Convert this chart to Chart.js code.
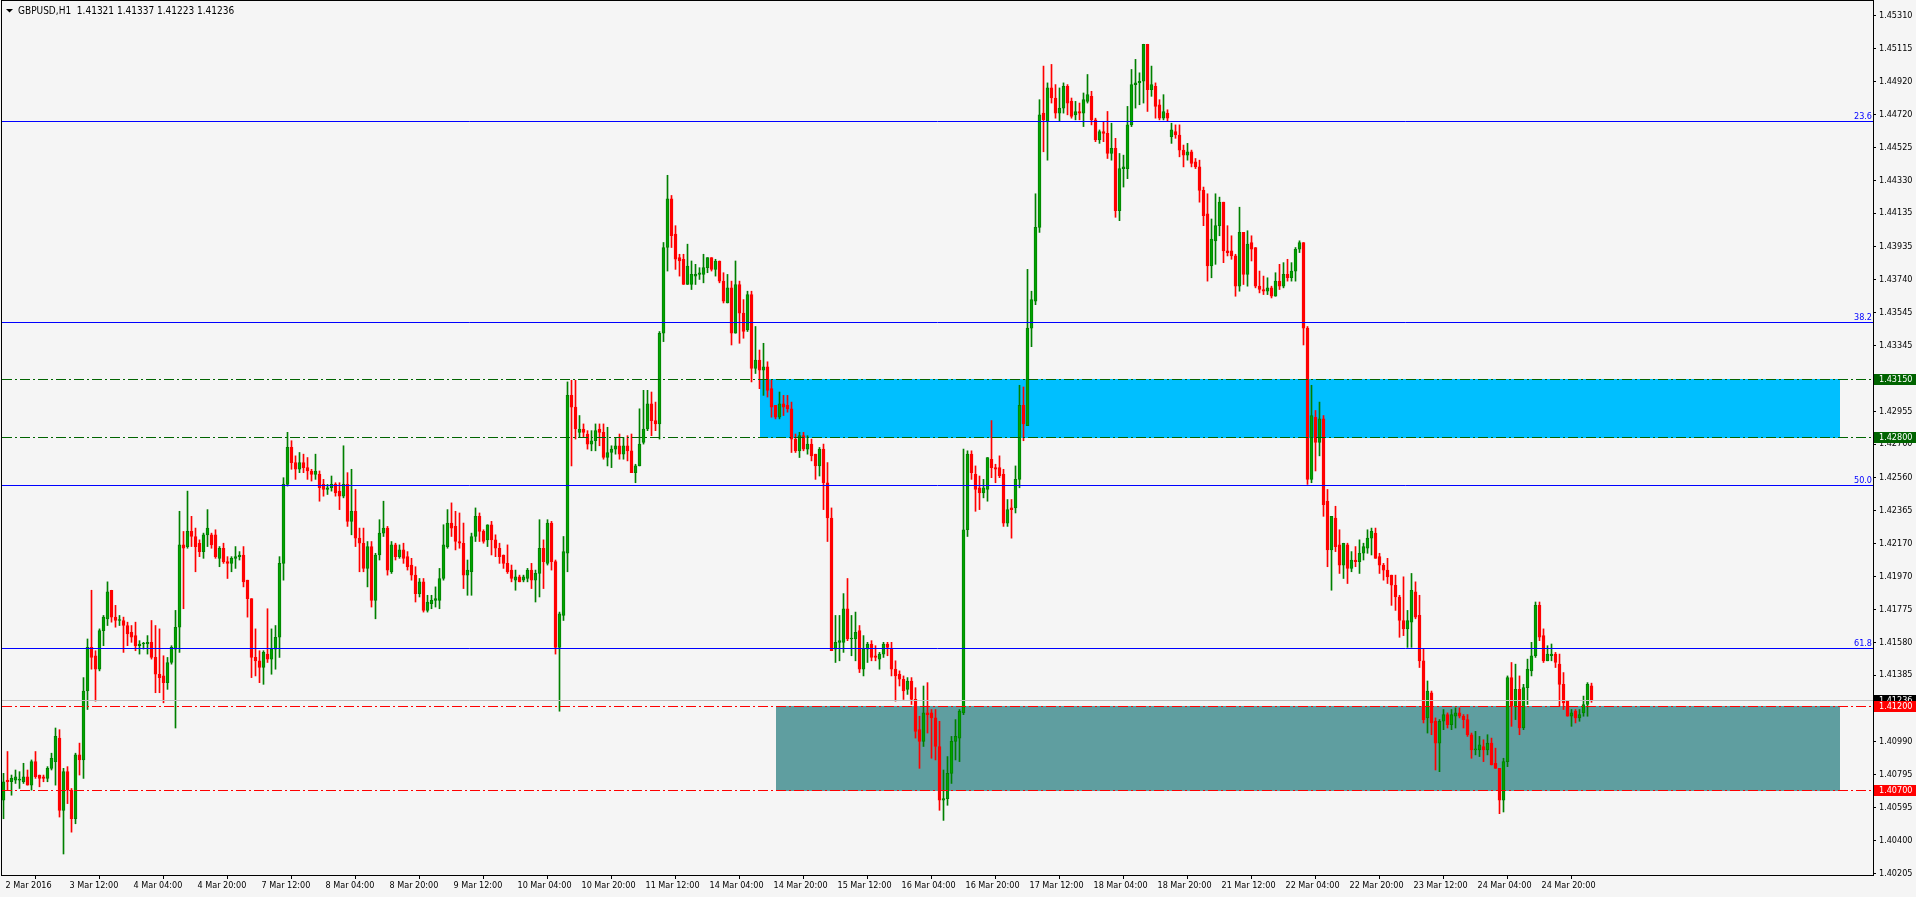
<!DOCTYPE html>
<html>
<head>
<meta charset="utf-8">
<title>GBPUSD,H1</title>
<script src="https://cdn.jsdelivr.net/npm/chart.js@4.4.1/dist/chart.umd.min.js"></script>
<style>
  html, body { margin: 0; padding: 0; background: #f5f5f5; overflow: hidden; }
  canvas { display: block; }
</style>
</head>
<body>
<canvas id="myChart" width="1916" height="897"></canvas>
<script>
// chart data
var symbol = 'GBPUSD,H1';

var timeLabels = ['2 Mar 2016', '3 Mar 12:00', '4 Mar 04:00', '4 Mar 20:00', '7 Mar 12:00', '8 Mar 04:00',
	'8 Mar 20:00', '9 Mar 12:00', '10 Mar 04:00', '10 Mar 20:00', '11 Mar 12:00', '14 Mar 04:00',
	'14 Mar 20:00', '15 Mar 12:00', '16 Mar 04:00', '16 Mar 20:00', '17 Mar 12:00', '18 Mar 04:00',
	'18 Mar 20:00', '21 Mar 12:00', '22 Mar 04:00', '22 Mar 20:00', '23 Mar 12:00', '24 Mar 04:00',
	'24 Mar 20:00'];
var barsPerLabel = 16;

var priceTicks = [1.45310, 1.45115, 1.44920, 1.44720, 1.44525, 1.44330, 1.44135, 1.43935, 1.43740,
	1.43545, 1.43345, 1.43150, 1.42955, 1.42760, 1.42560, 1.42365, 1.42170, 1.41970, 1.41775,
	1.41580, 1.41385, 1.41190, 1.40990, 1.40795, 1.40595, 1.40400, 1.40205];

// [open, high, low, close], one per hour
var candles = [
	// 2 Mar
	[1.4064,1.4080,1.4053,1.4075],[1.4076,1.4093,1.4070,1.4075],[1.4075,1.4079,1.4067,1.4077],[1.4076,1.4082,1.4074,1.4078],
	[1.4076,1.4081,1.4071,1.4076],[1.4075,1.4086,1.4074,1.4078],[1.4078,1.4082,1.4073,1.4073],[1.4073,1.4088,1.4070,1.4087],
	[1.4087,1.4093,1.4077,1.4078],[1.4079,1.4079,1.4072,1.4077],[1.4078,1.4079,1.4075,1.4077],[1.4077,1.4084,1.4075,1.4083],
	[1.4083,1.4092,1.4082,1.4089],[1.4087,1.4107,1.4073,1.4102],[1.4101,1.4106,1.4054,1.4058],[1.4058,1.4083,1.4032,1.4081],
	// 3 Mar 12:00
	[1.4081,1.4084,1.4062,1.4070],[1.4070,1.4071,1.4045,1.4053],[1.4053,1.4092,1.4050,1.4091],[1.4091,1.4098,1.4079,1.4088],
	[1.4088,1.4137,1.4077,1.4129],[1.4129,1.4160,1.4118,1.4155],[1.4155,1.4189,1.4142,1.4149],[1.4150,1.4153,1.4123,1.4142],
	[1.4142,1.4166,1.4141,1.4165],[1.4165,1.4174,1.4156,1.4173],[1.4172,1.4194,1.4168,1.4188],[1.4189,1.4189,1.4170,1.4173],
	[1.4173,1.4180,1.4167,1.4171],[1.4171,1.4174,1.4168,1.4171],[1.4171,1.4173,1.4152,1.4168],[1.4168,1.4170,1.4156,1.4163],
	// 4 Mar 04:00
	[1.4164,1.4168,1.4158,1.4161],[1.4162,1.4170,1.4153,1.4156],[1.4156,1.4159,1.4151,1.4157],[1.4157,1.4158,1.4154,1.4157],
	[1.4157,1.4162,1.4151,1.4158],[1.4158,1.4171,1.4148,1.4149],[1.4149,1.4168,1.4128,1.4139],[1.4139,1.4166,1.4128,1.4137],
	[1.4138,1.4150,1.4122,1.4134],[1.4134,1.4149,1.4130,1.4146],[1.4146,1.4156,1.4145,1.4155],[1.4154,1.4177,1.4107,1.4167],
	[1.4167,1.4236,1.4152,1.4216],[1.4216,1.4224,1.4178,1.4214],[1.4215,1.4248,1.4214,1.4224],[1.4224,1.4233,1.4215,1.4221],
	// 4 Mar 20:00
	[1.4221,1.4226,1.4200,1.4215],[1.4217,1.4219,1.4209,1.4212],[1.4212,1.4223,1.4208,1.4222],[1.4222,1.4237,1.4215,1.4226],
	[1.4222,1.4223,1.4214,1.4216],[1.4222,1.4225,1.4208,1.4209],[1.4208,1.4215,1.4203,1.4214],[1.4214,1.4217,1.4205,1.4206],
	[1.4206,1.4209,1.4196,1.4205],[1.4205,1.4209,1.4200,1.4208],[1.4208,1.4215,1.4202,1.4209],[1.4209,1.4212,1.4207,1.4210],
	[1.4210,1.4215,1.4191,1.4194],[1.4195,1.4195,1.4173,1.4184],[1.4184,1.4184,1.4137,1.4149],[1.4149,1.4166,1.4138,1.4147],
	// 7 Mar 12:00
	[1.4147,1.4153,1.4134,1.4143],[1.4143,1.4153,1.4133,1.4152],[1.4151,1.4178,1.4146,1.4148],[1.4148,1.4166,1.4139,1.4154],
	[1.4154,1.4168,1.4142,1.4161],[1.4161,1.4209,1.4149,1.4205],[1.4205,1.4256,1.4195,1.4252],[1.4252,1.4283,1.4251,1.4274],
	[1.4274,1.4278,1.4261,1.4265],[1.4265,1.4269,1.4255,1.4261],[1.4261,1.4271,1.4259,1.4265],[1.4265,1.4270,1.4259,1.4262],
	[1.4262,1.4268,1.4255,1.4260],[1.4260,1.4261,1.4254,1.4258],[1.4258,1.4270,1.4255,1.4260],[1.4258,1.4260,1.4242,1.4250],
	// 8 Mar 04:00
	[1.4252,1.4255,1.4245,1.4249],[1.4249,1.4252,1.4246,1.4250],[1.4250,1.4257,1.4248,1.4252],[1.4252,1.4253,1.4245,1.4247],
	[1.4248,1.4253,1.4237,1.4245],[1.4245,1.4275,1.4244,1.4252],[1.4252,1.4259,1.4227,1.4230],[1.4230,1.4261,1.4222,1.4236],
	[1.4236,1.4249,1.4215,1.4220],[1.4220,1.4226,1.4200,1.4217],[1.4217,1.4226,1.4200,1.4202],[1.4202,1.4218,1.4191,1.4215],
	[1.4215,1.4218,1.4179,1.4183],[1.4183,1.4211,1.4172,1.4210],[1.4210,1.4231,1.4207,1.4223],[1.4223,1.4242,1.4221,1.4226],
	// 8 Mar 20:00
	[1.4226,1.4227,1.4198,1.4201],[1.4200,1.4218,1.4199,1.4216],[1.4216,1.4217,1.4207,1.4209],[1.4209,1.4216,1.4208,1.4213],
	[1.4213,1.4217,1.4205,1.4208],[1.4209,1.4212,1.4201,1.4203],[1.4204,1.4208,1.4195,1.4198],[1.4198,1.4203,1.4182,1.4187],
	[1.4187,1.4196,1.4185,1.4194],[1.4194,1.4196,1.4176,1.4177],[1.4177,1.4186,1.4176,1.4182],[1.4181,1.4186,1.4178,1.4183],
	[1.4183,1.4191,1.4179,1.4184],[1.4183,1.4202,1.4178,1.4196],[1.4196,1.4228,1.4195,1.4216],[1.4215,1.4237,1.4214,1.4229],
	// 9 Mar 12:00
	[1.4229,1.4241,1.4221,1.4226],[1.4227,1.4236,1.4213,1.4218],[1.4218,1.4235,1.4214,1.4217],[1.4217,1.4229,1.4190,1.4198],
	[1.4198,1.4207,1.4186,1.4201],[1.4200,1.4223,1.4186,1.4221],[1.4221,1.4238,1.4218,1.4233],[1.4233,1.4235,1.4218,1.4224],
	[1.4224,1.4225,1.4217,1.4218],[1.4219,1.4228,1.4215,1.4228],[1.4228,1.4230,1.4210,1.4219],[1.4219,1.4222,1.4209,1.4214],
	[1.4214,1.4217,1.4205,1.4209],[1.4210,1.4210,1.4202,1.4205],[1.4205,1.4216,1.4199,1.4200],[1.4201,1.4204,1.4194,1.4196],
	// 10 Mar 04:00
	[1.4195,1.4201,1.4189,1.4197],[1.4197,1.4198,1.4194,1.4194],[1.4195,1.4198,1.4194,1.4197],[1.4196,1.4202,1.4194,1.4201],
	[1.4201,1.4205,1.4190,1.4195],[1.4195,1.4201,1.4182,1.4199],[1.4199,1.4231,1.4185,1.4214],[1.4214,1.4219,1.4190,1.4206],
	[1.4205,1.4231,1.4204,1.4229],[1.4229,1.4230,1.4201,1.4206],[1.4206,1.4207,1.4151,1.4155],[1.4155,1.4176,1.4117,1.4175],
	[1.4174,1.4221,1.4171,1.4212],[1.4211,1.4313,1.4200,1.4305],[1.4305,1.4314,1.4263,1.4298],[1.4298,1.4314,1.4279,1.4285],
	// 10 Mar 20:00
	[1.4283,1.4293,1.4280,1.4285],[1.4285,1.4288,1.4280,1.4283],[1.4282,1.4284,1.4273,1.4276],[1.4276,1.4284,1.4272,1.4278],
	[1.4278,1.4288,1.4272,1.4284],[1.4285,1.4288,1.4275,1.4283],[1.4283,1.4288,1.4267,1.4268],[1.4268,1.4286,1.4263,1.4271],
	[1.4271,1.4275,1.4262,1.4273],[1.4273,1.4280,1.4270,1.4275],[1.4275,1.4282,1.4267,1.4270],[1.4270,1.4280,1.4267,1.4275],
	[1.4275,1.4281,1.4266,1.4272],[1.4272,1.4282,1.4259,1.4259],[1.4259,1.4264,1.4253,1.4263],[1.4263,1.4297,1.4263,1.4276],
	// 11 Mar 12:00
	[1.4277,1.4308,1.4276,1.4285],[1.4285,1.4308,1.4284,1.4300],[1.4300,1.4307,1.4281,1.4290],[1.4290,1.4301,1.4284,1.4288],
	[1.4288,1.4343,1.4279,1.4342],[1.4342,1.4396,1.4337,1.4393],[1.4393,1.4436,1.4379,1.4422],[1.4422,1.4424,1.4393,1.4400],
	[1.4401,1.4406,1.4380,1.4386],[1.4387,1.4389,1.4376,1.4385],[1.4386,1.4389,1.4371,1.4371],[1.4371,1.4395,1.4371,1.4382],
	[1.4371,1.4385,1.4368,1.4377],[1.4376,1.4383,1.4371,1.4377],[1.4377,1.4381,1.4374,1.4378],[1.4377,1.4389,1.4372,1.4381],
	// 14 Mar 04:00
	[1.4381,1.4387,1.4378,1.4387],[1.4387,1.4387,1.4379,1.4380],[1.4380,1.4386,1.4376,1.4385],[1.4385,1.4385,1.4372,1.4373],
	[1.4373,1.4378,1.4360,1.4361],[1.4360,1.4377,1.4360,1.4369],[1.4369,1.4373,1.4335,1.4342],[1.4342,1.4385,1.4342,1.4371],
	[1.4371,1.4373,1.4336,1.4354],[1.4354,1.4362,1.4339,1.4343],[1.4344,1.4367,1.4343,1.4365],[1.4365,1.4367,1.4313,1.4321],
	[1.4321,1.4346,1.4318,1.4326],[1.4326,1.4332,1.4309,1.4320],[1.4320,1.4336,1.4305,1.4322],[1.4322,1.4325,1.4304,1.4308],
	// 14 Mar 20:00
	[1.4309,1.4314,1.4292,1.4298],[1.4299,1.4299,1.4291,1.4292],[1.4292,1.4307,1.4291,1.4300],[1.4300,1.4305,1.4293,1.4298],
	[1.4299,1.4305,1.4295,1.4297],[1.4297,1.4301,1.4271,1.4279],[1.4279,1.4282,1.4271,1.4272],[1.4272,1.4283,1.4268,1.4281],
	[1.4281,1.4283,1.4272,1.4273],[1.4273,1.4281,1.4270,1.4276],[1.4276,1.4279,1.4266,1.4269],[1.4270,1.4270,1.4255,1.4263],
	[1.4263,1.4274,1.4257,1.4273],[1.4273,1.4276,1.4237,1.4253],[1.4253,1.4265,1.4218,1.4232],[1.4232,1.4238,1.4153,1.4153],
	// 15 Mar 12:00
	[1.4154,1.4174,1.4146,1.4158],[1.4158,1.4174,1.4147,1.4159],[1.4158,1.4187,1.4152,1.4178],[1.4178,1.4196,1.4159,1.4160],
	[1.4160,1.4174,1.4150,1.4160],[1.4160,1.4176,1.4147,1.4164],[1.4165,1.4168,1.4140,1.4142],[1.4142,1.4162,1.4138,1.4154],
	[1.4154,1.4158,1.4146,1.4157],[1.4157,1.4159,1.4147,1.4149],[1.4150,1.4156,1.4147,1.4149],[1.4148,1.4152,1.4142,1.4151],
	[1.4151,1.4158,1.4149,1.4157],[1.4157,1.4158,1.4150,1.4155],[1.4154,1.4158,1.4138,1.4142],[1.4142,1.4147,1.4123,1.4138],
	// 16 Mar 04:00
	[1.4139,1.4141,1.4132,1.4136],[1.4136,1.4138,1.4124,1.4129],[1.4130,1.4137,1.4127,1.4135],[1.4135,1.4137,1.4121,1.4124],
	[1.4124,1.4131,1.4101,1.4105],[1.4106,1.4114,1.4083,1.4099],[1.4099,1.4132,1.4096,1.4116],[1.4116,1.4134,1.4104,1.4115],
	[1.4116,1.4118,1.4089,1.4113],[1.4113,1.4118,1.4088,1.4096],[1.4096,1.4111,1.4058,1.4064],[1.4064,1.4082,1.4052,1.4065],
	[1.4065,1.4090,1.4061,1.4080],[1.4080,1.4102,1.4074,1.4099],[1.4099,1.4112,1.4088,1.4102],[1.4101,1.4118,1.4087,1.4117],
	// 16 Mar 20:00
	[1.4116,1.4273,1.4115,1.4225],[1.4225,1.4272,1.4221,1.4270],[1.4270,1.4272,1.4255,1.4259],[1.4258,1.4263,1.4236,1.4249],
	[1.4250,1.4257,1.4237,1.4247],[1.4247,1.4255,1.4244,1.4250],[1.4249,1.4268,1.4242,1.4268],[1.4267,1.4290,1.4256,1.4262],
	[1.4262,1.4264,1.4253,1.4261],[1.4262,1.4269,1.4256,1.4257],[1.4258,1.4261,1.4227,1.4229],[1.4229,1.4243,1.4227,1.4237],
	[1.4238,1.4243,1.4220,1.4237],[1.4238,1.4263,1.4235,1.4255],[1.4255,1.4311,1.4250,1.4299],[1.4299,1.4310,1.4278,1.4288],
	// 17 Mar 12:00
	[1.4287,1.4380,1.4287,1.4345],[1.4345,1.4367,1.4334,1.4362],[1.4361,1.4425,1.4359,1.4405],[1.4405,1.4481,1.4402,1.4472],
	[1.4473,1.4501,1.4450,1.4469],[1.4468,1.4491,1.4445,1.4488],[1.4488,1.4502,1.4479,1.4482],[1.4482,1.4490,1.4470,1.4473],
	[1.4473,1.4488,1.4468,1.4476],[1.4476,1.4491,1.4473,1.4489],[1.4489,1.4490,1.4472,1.4479],[1.4480,1.4482,1.4470,1.4471],
	[1.4472,1.4480,1.4469,1.4474],[1.4474,1.4479,1.4469,1.4473],[1.4473,1.4485,1.4465,1.4481],[1.4480,1.4496,1.4479,1.4484],
	// 18 Mar 04:00
	[1.4483,1.4486,1.4466,1.4469],[1.4469,1.4470,1.4456,1.4457],[1.4457,1.4463,1.4455,1.4462],[1.4462,1.4468,1.4456,1.4461],
	[1.4461,1.4474,1.4446,1.4449],[1.4449,1.4467,1.4445,1.4452],[1.4452,1.4458,1.4411,1.4415],[1.4415,1.4449,1.4409,1.4440],
	[1.4440,1.4448,1.4429,1.4441],[1.4440,1.4477,1.4434,1.4466],[1.4466,1.4499,1.4465,1.4490],[1.4490,1.4505,1.4476,1.4491],
	[1.4491,1.4497,1.4478,1.4492],[1.4492,1.4514,1.4479,1.4514],[1.4514,1.4514,1.4474,1.4487],[1.4487,1.4501,1.4483,1.4490],
	// 18 Mar 20:00
	[1.4489,1.4491,1.4470,1.4477],[1.4478,1.4481,1.4469,1.4470],[1.4470,1.4484,1.4469,1.4474],[1.4473,1.4475,1.4468,1.4470],
	[1.4459,1.4467,1.4455,1.4463],[1.4462,1.4466,1.4458,1.4460],[1.4460,1.4466,1.4447,1.4451],[1.4451,1.4454,1.4441,1.4448],
	[1.4448,1.4455,1.4445,1.4450],[1.4450,1.4451,1.4441,1.4443],[1.4444,1.4446,1.4440,1.4441],[1.4441,1.4445,1.4420,1.4427],
	[1.4427,1.4429,1.4406,1.4412],[1.4413,1.4425,1.4373,1.4382],[1.4382,1.4410,1.4375,1.4398],[1.4397,1.4425,1.4383,1.4406],
	// 21 Mar 12:00
	[1.4406,1.4423,1.4400,1.4420],[1.4420,1.4420,1.4384,1.4391],[1.4391,1.4406,1.4388,1.4390],[1.4391,1.4400,1.4386,1.4388],
	[1.4388,1.4389,1.4364,1.4370],[1.4370,1.4417,1.4367,1.4402],[1.4402,1.4402,1.4371,1.4377],[1.4377,1.4403,1.4370,1.4395],
	[1.4396,1.4400,1.4385,1.4392],[1.4393,1.4393,1.4369,1.4370],[1.4370,1.4379,1.4366,1.4368],[1.4368,1.4376,1.4365,1.4367],
	[1.4367,1.4375,1.4365,1.4369],[1.4369,1.4370,1.4363,1.4364],[1.4364,1.4378,1.4364,1.4373],[1.4373,1.4383,1.4368,1.4370],
	// 22 Mar 04:00
	[1.4370,1.4384,1.4369,1.4377],[1.4377,1.4386,1.4373,1.4375],[1.4375,1.4384,1.4373,1.4379],[1.4379,1.4393,1.4373,1.4392],
	[1.4392,1.4397,1.4390,1.4396],[1.4396,1.4396,1.4335,1.4345],[1.4345,1.4346,1.4252,1.4255],[1.4255,1.4311,1.4253,1.4293],
	[1.4292,1.4296,1.4260,1.4277],[1.4277,1.4301,1.4269,1.4291],[1.4291,1.4293,1.4233,1.4240],[1.4242,1.4249,1.4203,1.4213],
	[1.4213,1.4233,1.4189,1.4233],[1.4232,1.4239,1.4212,1.4215],[1.4216,1.4225,1.4199,1.4204],[1.4204,1.4217,1.4196,1.4217],
	// 22 Mar 20:00
	[1.4216,1.4217,1.4193,1.4202],[1.4202,1.4212,1.4200,1.4207],[1.4207,1.4215,1.4203,1.4206],[1.4206,1.4219,1.4199,1.4211],
	[1.4211,1.4217,1.4207,1.4215],[1.4214,1.4225,1.4211,1.4220],[1.4220,1.4226,1.4210,1.4224],[1.4223,1.4226,1.4208,1.4208],
	[1.4209,1.4211,1.4199,1.4204],[1.4204,1.4205,1.4195,1.4201],[1.4201,1.4208,1.4193,1.4197],[1.4198,1.4198,1.4180,1.4192],
	[1.4192,1.4198,1.4177,1.4185],[1.4185,1.4186,1.4161,1.4171],[1.4171,1.4197,1.4162,1.4166],[1.4166,1.4177,1.4155,1.4171],
	// 23 Mar 12:00
	[1.4170,1.4199,1.4155,1.4189],[1.4188,1.4194,1.4172,1.4173],[1.4174,1.4186,1.4143,1.4147],[1.4147,1.4154,1.4110,1.4112],
	[1.4113,1.4135,1.4104,1.4129],[1.4128,1.4129,1.4103,1.4110],[1.4111,1.4113,1.4082,1.4098],[1.4098,1.4112,1.4081,1.4111],
	[1.4111,1.4118,1.4106,1.4115],[1.4115,1.4116,1.4107,1.4109],[1.4109,1.4118,1.4106,1.4115],[1.4114,1.4119,1.4107,1.4116],
	[1.4116,1.4119,1.4113,1.4114],[1.4114,1.4115,1.4107,1.4112],[1.4112,1.4115,1.4102,1.4103],[1.4103,1.4104,1.4089,1.4094],
	// 24 Mar 04:00
	[1.4094,1.4105,1.4091,1.4094],[1.4094,1.4102,1.4090,1.4097],[1.4096,1.4100,1.4087,1.4094],[1.4094,1.4103,1.4091,1.4098],
	[1.4098,1.4101,1.4085,1.4085],[1.4086,1.4095,1.4083,1.4083],[1.4083,1.4083,1.4056,1.4064],[1.4064,1.4089,1.4057,1.4087],
	[1.4087,1.4138,1.4084,1.4137],[1.4137,1.4146,1.4108,1.4120],[1.4120,1.4145,1.4112,1.4130],[1.4130,1.4138,1.4103,1.4107],
	[1.4107,1.4133,1.4106,1.4131],[1.4131,1.4148,1.4121,1.4142],[1.4141,1.4158,1.4138,1.4150],[1.4150,1.4182,1.4149,1.4180],
	// 24 Mar 20:00
	[1.4180,1.4182,1.4159,1.4161],[1.4162,1.4166,1.4146,1.4147],[1.4147,1.4156,1.4147,1.4151],[1.4150,1.4157,1.4147,1.4151],
	[1.4151,1.4152,1.4143,1.4146],[1.4145,1.4151,1.4120,1.4133],[1.4133,1.4140,1.4118,1.4122],[1.4123,1.4123,1.4114,1.4114],
	[1.4114,1.4118,1.4108,1.4116],[1.4117,1.4118,1.4110,1.4113],[1.4113,1.4118,1.4111,1.4115],[1.4116,1.4126,1.4114,1.4121],
	[1.4121,1.4134,1.4114,1.4133],[1.41321,1.41337,1.41223,1.41236]
];

// fibonacci retracement levels
var fibValues = [1.44681, 1.43485, 1.42517, 1.41545];
var fibLabels = ['23.6', '38.2', '50.0', '61.8'];

// horizontal levels
var greenLevels = [1.43150, 1.42800];
var redLevels = [1.41200, 1.40700];

// rectangles: first bar, last bar, top price, bottom price
var zoneFrom = [189, 193];
var zoneTo = [459, 459];
var zoneHigh = [1.43150, 1.41200];
var zoneLow = [1.42800, 1.40700];

// styles
var BULL_LINE = '#008000';
var BULL_FILL = '#00a400';
var BEAR = '#ff0000';
var ZONE_COLORS = ['#00bfff', '#5f9ea0'];
var FIB_COLOR = '#0000ff';
var GREEN_LEVEL = '#006400';
var BID_LINE = '#c0c0c0';
var FONT = "'DejaVu Sans Condensed', 'DejaVu Sans', sans-serif";
var DASH_DOT = [10, 3, 2, 3];

var wickData = [], bodyData = [], wickColors = [], bodyColors = [], bodyBorders = [];
for (var i = 0; i < candles.length; i++) {
	var c = candles[i];
	var up = c[3] >= c[0];
	wickData.push({ x: i, y: [c[2], c[1]] });
	bodyData.push({ x: i, y: [c[0], c[3]] });
	wickColors.push(up ? BULL_LINE : BEAR);
	bodyColors.push(up ? BULL_FILL : BEAR);
	bodyBorders.push(up ? BULL_LINE : BEAR);
}
var last = candles[candles.length - 1];

function hline(ctx, area, y, color, dash) {
	var yy = Math.round(y) + 0.5;
	ctx.save();
	ctx.strokeStyle = color;
	ctx.lineWidth = 1;
	ctx.setLineDash(dash || []);
	ctx.beginPath();
	ctx.moveTo(area.left, yy);
	ctx.lineTo(area.right, yy);
	ctx.stroke();
	ctx.restore();
}

function axisTag(ctx, area, y, text, bg) {
	var yy = Math.round(y);
	ctx.fillStyle = bg;
	ctx.fillRect(area.right + 1, yy - 5, 44, 11);
	ctx.fillStyle = '#ffffff';
	ctx.font = '9px ' + FONT;
	ctx.textAlign = 'left';
	ctx.textBaseline = 'middle';
	ctx.fillText(text, area.right + 6, yy + 0.5);
}

// no extra room for the first/last labels, keep the plot box where MT4 has it
function noPadding(scale) {
	scale.paddingTop = 0;
	scale.paddingBottom = 0;
	scale.paddingLeft = 0;
	scale.paddingRight = 0;
}

var objectsPlugin = {
	id: 'mtObjects',
	beforeDatasetsDraw: function (chart) {
		var ctx = chart.ctx, xs = chart.scales.x, ys = chart.scales.y;
		ctx.save();
		for (var k = 0; k < zoneFrom.length; k++) {
			var x0 = Math.round(xs.getPixelForValue(zoneFrom[k]));
			var x1 = Math.round(xs.getPixelForValue(zoneTo[k]));
			var y0 = Math.round(ys.getPixelForValue(zoneHigh[k]));
			var y1 = Math.round(ys.getPixelForValue(zoneLow[k]));
			ctx.fillStyle = ZONE_COLORS[k];
			ctx.fillRect(x0, y0, x1 - x0, y1 - y0 + 1);
		}
		ctx.restore();
	},
	afterDatasetsDraw: function (chart) {
		var ctx = chart.ctx, ys = chart.scales.y, a = chart.chartArea;
		var k;
		// bid line
		hline(ctx, a, ys.getPixelForValue(last[3]), BID_LINE);
		// fibo
		ctx.save();
		ctx.font = '9px ' + FONT;
		ctx.textAlign = 'right';
		ctx.textBaseline = 'alphabetic';
		for (k = 0; k < fibValues.length; k++) {
			var fy = ys.getPixelForValue(fibValues[k]);
			hline(ctx, a, fy, FIB_COLOR);
			ctx.fillStyle = FIB_COLOR;
			ctx.fillText(fibLabels[k], a.right - 1, Math.round(fy) - 2);
		}
		ctx.restore();
		for (k = 0; k < greenLevels.length; k++) hline(ctx, a, ys.getPixelForValue(greenLevels[k]), GREEN_LEVEL, DASH_DOT);
		for (k = 0; k < redLevels.length; k++) hline(ctx, a, ys.getPixelForValue(redLevels[k]), BEAR, DASH_DOT);

		// frame
		ctx.save();
		ctx.strokeStyle = '#000000';
		ctx.lineWidth = 1;
		ctx.strokeRect(a.left - 0.5, a.top - 0.5, a.right - a.left + 1, a.bottom - a.top + 1);
		ctx.restore();

		// price tags on the axis
		ctx.save();
		axisTag(ctx, a, ys.getPixelForValue(last[3]), last[3].toFixed(5), '#000000');
		for (k = 0; k < greenLevels.length; k++) axisTag(ctx, a, ys.getPixelForValue(greenLevels[k]), greenLevels[k].toFixed(5), GREEN_LEVEL);
		for (k = 0; k < redLevels.length; k++) axisTag(ctx, a, ys.getPixelForValue(redLevels[k]), redLevels[k].toFixed(5), BEAR);

		// title
		ctx.fillStyle = '#000000';
		ctx.beginPath();
		ctx.moveTo(6, 9);
		ctx.lineTo(13, 9);
		ctx.lineTo(9.5, 12.5);
		ctx.closePath();
		ctx.fill();
		ctx.font = '10px ' + FONT;
		ctx.textAlign = 'left';
		ctx.textBaseline = 'alphabetic';
		ctx.fillText(symbol + '  ' + last.map(function (v) { return v.toFixed(5); }).join(' '), 18, 14);
		ctx.restore();
	}
};

var ctx = document.getElementById('myChart').getContext('2d');
var myChart = new Chart(ctx, {
	type: 'bar',
	data: {
		datasets: [
			{
				label: 'wicks',
				data: wickData,
				backgroundColor: wickColors,
				borderWidth: 0,
				barThickness: 1,
				grouped: false,
				order: 2
			},
			{
				label: 'bodies',
				data: bodyData,
				backgroundColor: bodyColors,
				borderColor: bodyBorders,
				borderWidth: 1,
				borderSkipped: false,
				barThickness: 3,
				minBarLength: 1,
				grouped: false,
				order: 1
			}
		]
	},
	options: {
		responsive: false,
		animation: false,
		devicePixelRatio: 1,
		events: [],
		layout: { padding: { left: 2, top: 1, right: 0, bottom: 0 } },
		plugins: { legend: { display: false }, tooltip: { enabled: false } },
		scales: {
			x: {
				type: 'linear',
				offset: false,
				min: -0.375,
				max: 467.375,
				afterBuildTicks: function (scale) {
					scale.ticks = timeLabels.map(function (t, k) { return { value: k * barsPerLabel }; });
				},
				afterFit: function (scale) { scale.height = 22; noPadding(scale); },
				border: { display: false },
				grid: { drawOnChartArea: false, drawTicks: true, tickLength: 4, color: '#000000' },
				ticks: {
					autoSkip: false,
					maxRotation: 0,
					align: 'start',
					labelOffset: 2,
					padding: 1,
					color: '#000000',
					font: { family: FONT, size: 9 },
					callback: function (v) { return timeLabels[Math.round(v / barsPerLabel)]; }
				}
			},
			y: {
				type: 'linear',
				position: 'right',
				min: 1.40195,
				max: 1.453975,
				afterBuildTicks: function (scale) {
					scale.ticks = priceTicks.map(function (p) { return { value: p }; });
				},
				afterFit: function (scale) { scale.width = 43; noPadding(scale); },
				border: { display: false },
				grid: { drawOnChartArea: false, drawTicks: true, tickLength: 3, color: '#000000' },
				ticks: {
					autoSkip: false,
					padding: 3,
					color: '#000000',
					font: { family: FONT, size: 9 },
					callback: function (v) { return v.toFixed(5); }
				}
			}
		}
	},
	plugins: [objectsPlugin]
});
</script>
</body>
</html>
